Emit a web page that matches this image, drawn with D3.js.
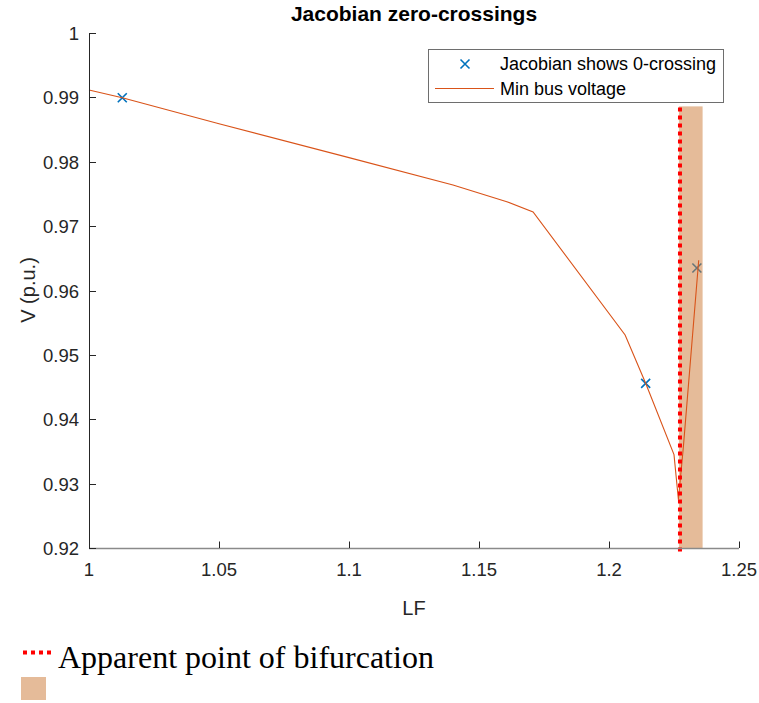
<!DOCTYPE html>
<html><head><meta charset="utf-8">
<script src="https://cdn.jsdelivr.net/npm/d3@7/dist/d3.min.js"></script>
<style>body{margin:0;background:#fff}svg{display:block}</style>
</head><body>
<script>
const lineLF = [1.000, 1.0128, 1.05, 1.10, 1.14, 1.1607, 1.1708, 1.2062, 1.2141, 1.2250, 1.2267, 1.2286, 1.2345];
const lineV  = [0.99115, 0.98995, 0.9859, 0.98064, 0.9764, 0.9738, 0.9722, 0.9531, 0.9456, 0.9345, 0.9275, 0.9357, 0.9647];
const crossLF = [1.0128, 1.2141, 1.2338];
const crossV  = [0.98995, 0.94558, 0.9635];
const bifLF = 1.2273;
const bandLF = [1.2269, 1.2360];
const bandTopV = 0.9886;
const xTicks = [1, 1.05, 1.1, 1.15, 1.2, 1.25];
const xTickLabels = ["1", "1.05", "1.1", "1.15", "1.2", "1.25"];
const yTicks = [0.92, 0.93, 0.94, 0.95, 0.96, 0.97, 0.98, 0.99, 1];
const yTickLabels = ["0.92", "0.93", "0.94", "0.95", "0.96", "0.97", "0.98", "0.99", "1"];
const legendLabels = ["Jacobian shows 0-crossing", "Min bus voltage"];
const bottomLegendLabel = "Apparent point of bifurcation";

const W = 759, H = 703;
const svg = d3.select("body").append("svg").attr("width", W).attr("height", H);
const x = d3.scaleLinear().domain([1, 1.25]).range([89, 739]);
const y = d3.scaleLinear().domain([0.92, 1]).range([548, 33]);
const font = "'Liberation Sans', Arial, sans-serif";
const axCol = "#262626";

// crosses (under band)
const cross = svg.append("g");
crossLF.forEach((lf, i) => {
  const cx = x(lf), cy = y(crossV[i]), s = 4.5;
  cross.append("path")
    .attr("d", `M${cx-s},${cy-s}L${cx+s},${cy+s}M${cx-s},${cy+s}L${cx+s},${cy-s}`)
    .attr("stroke", "#0072BD").attr("stroke-width", 1.6).attr("fill", "none");
});

// band
svg.append("rect")
  .attr("x", x(bandLF[0])).attr("width", x(bandLF[1]) - x(bandLF[0]))
  .attr("y", y(bandTopV)).attr("height", y(0.92) - y(bandTopV))
  .attr("fill", "#CC7733").attr("fill-opacity", 0.5);

// line
const pts = lineLF.map((d, i) => [d, lineV[i]]);
svg.append("path")
  .attr("d", d3.line().x(d => x(d[0])).y(d => y(d[1]))(pts))
  .attr("fill", "none").attr("stroke", "#D95319").attr("stroke-width", 1.1);

// bifurcation dotted line
svg.append("line")
  .attr("x1", x(bifLF)).attr("x2", x(bifLF))
  .attr("y1", y(bandTopV) + 1).attr("y2", 553)
  .attr("stroke", "#FF0000").attr("stroke-width", 4).attr("stroke-dasharray", "4,4");

// axes
const xAxis = svg.append("g");
xAxis.append("line").attr("x1", 89).attr("x2", 739).attr("y1", 548.5).attr("y2", 548.5)
  .attr("stroke", "#8a8a8a").attr("stroke-width", 1.6);
xTicks.forEach((t, i) => {
  xAxis.append("line").attr("x1", Math.round(x(t)) + 0.5).attr("x2", Math.round(x(t)) + 0.5)
    .attr("y1", 548).attr("y2", 541.5).attr("stroke", axCol).attr("stroke-width", 1);
  xAxis.append("text").attr("x", x(t)).attr("y", 576).attr("text-anchor", "middle")
    .attr("font-family", font).attr("font-size", 18.5).attr("fill", axCol).text(xTickLabels[i]);
});
const yAxis = svg.append("g");
yAxis.append("line").attr("x1", 89.5).attr("x2", 89.5).attr("y1", 33).attr("y2", 548)
  .attr("stroke", axCol).attr("stroke-width", 1);
yTicks.forEach((t, i) => {
  yAxis.append("line").attr("x1", 89).attr("x2", 96).attr("y1", Math.round(y(t)) + 0.5).attr("y2", Math.round(y(t)) + 0.5)
    .attr("stroke", axCol).attr("stroke-width", 1);
  yAxis.append("text").attr("x", 79).attr("y", y(t) + 7).attr("text-anchor", "end")
    .attr("font-family", font).attr("font-size", 18.5).attr("fill", axCol).text(yTickLabels[i]);
});

// axis labels and title
svg.append("text").attr("x", 414).attr("y", 615).attr("text-anchor", "middle")
  .attr("font-family", font).attr("font-size", 20).attr("fill", axCol).text("LF");
svg.append("text").attr("transform", "translate(35,290) rotate(-90)").attr("text-anchor", "middle")
  .attr("font-family", font).attr("font-size", 20).attr("fill", axCol).text("V (p.u.)");
svg.append("text").attr("x", 414).attr("y", 21).attr("text-anchor", "middle")
  .attr("font-family", font).attr("font-size", 21).attr("font-weight", "bold").attr("fill", "#000").text("Jacobian zero-crossings");

// legend
const lg = svg.append("g");
lg.append("rect").attr("x", 428.5).attr("y", 49.5).attr("width", 295).attr("height", 53)
  .attr("fill", "#fff").attr("stroke", "#6e6e6e").attr("stroke-width", 1);
{
  const cx = 465, cy = 64, s = 4.5;
  lg.append("path").attr("d", `M${cx-s},${cy-s}L${cx+s},${cy+s}M${cx-s},${cy+s}L${cx+s},${cy-s}`)
    .attr("stroke", "#0072BD").attr("stroke-width", 1.6).attr("fill", "none");
}
lg.append("line").attr("x1", 435).attr("x2", 494).attr("y1", 88.5).attr("y2", 88.5)
  .attr("stroke", "#D95319").attr("stroke-width", 1.1);
lg.append("text").attr("x", 500).attr("y", 70).attr("font-family", font).attr("font-size", 18).attr("fill", "#000").text(legendLabels[0]);
lg.append("text").attr("x", 500).attr("y", 95).attr("font-family", font).attr("font-size", 18).attr("fill", "#000").text(legendLabels[1]);

// bottom legend
svg.append("line").attr("x1", 23).attr("x2", 53).attr("y1", 652.5).attr("y2", 652.5)
  .attr("stroke", "#FF0000").attr("stroke-width", 4).attr("stroke-dasharray", "4,4");
svg.append("text").attr("x", 58).attr("y", 668).attr("font-family", "'Liberation Serif', 'Times New Roman', serif")
  .attr("font-size", 32).attr("fill", "#000").text(bottomLegendLabel);
svg.append("rect").attr("x", 21).attr("y", 677).attr("width", 25).attr("height", 23)
  .attr("fill", "#CC7733").attr("fill-opacity", 0.5);
</script>
</body></html>
